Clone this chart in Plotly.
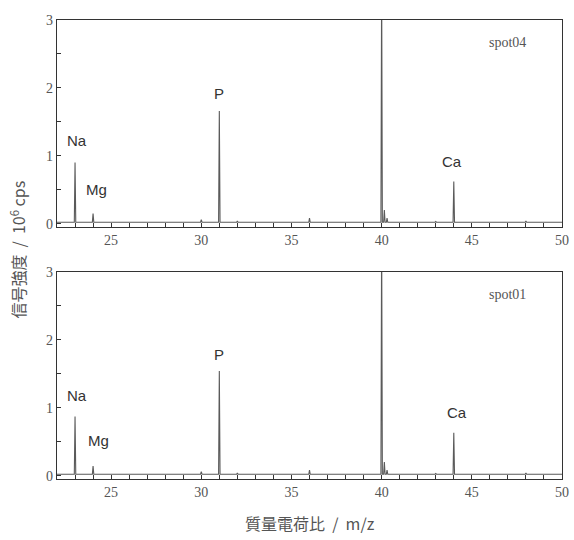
import plotly.graph_objects as go
from plotly.subplots import make_subplots

# Peak list (m/z) and intensities (10^6 cps)
peak_mz = [23.0, 24.0, 30.0, 31.0, 32.0, 36.0, 40.0, 40.15, 40.3, 43.0, 44.0, 48.0]
spot04_int = [0.90, 0.15, 0.06, 1.66, 0.04, 0.08, 3.6, 0.20, 0.08, 0.03, 0.62, 0.04]
spot01_int = [0.87, 0.14, 0.06, 1.54, 0.04, 0.08, 3.6, 0.20, 0.08, 0.03, 0.63, 0.04]
baseline = 0.02

element_names = ["Na", "Mg", "P", "Ca"]
element_x04 = [23.1, 24.2, 31.0, 43.9]
element_y04 = [1.22, 0.50, 1.91, 0.91]
element_x01 = [23.1, 24.3, 31.0, 44.2]
element_y01 = [1.18, 0.51, 1.78, 0.93]

spot_names = ["spot04", "spot01"]
x_range = [22, 50]
y_range = [-0.05, 3.0]


def spectrum(mz, inten):
    xs, ys = [x_range[0]], [baseline]
    for m, h in zip(mz, inten):
        xs += [m - 0.04, m, m + 0.04]
        ys += [baseline, h, baseline]
    xs.append(x_range[1])
    ys.append(baseline)
    return xs, ys


fig = make_subplots(rows=2, cols=1, vertical_spacing=0.098)
line_col = "#5a5a5a"
for row, inten in [(1, spot04_int), (2, spot01_int)]:
    xs, ys = spectrum(peak_mz, inten)
    fig.add_trace(go.Scatter(x=xs, y=ys, mode="lines",
                             line=dict(color=line_col, width=1.1),
                             showlegend=False, hoverinfo="skip"),
                  row=row, col=1)

ann_font = dict(family="Liberation Sans, Arial", size=15, color="#333333")
for row, (ex, ey) in [(1, (element_x04, element_y04)), (2, (element_x01, element_y01))]:
    for name, xv, yv in zip(element_names, ex, ey):
        fig.add_annotation(x=xv, y=yv, text=name, showarrow=False,
                           font=ann_font, row=row, col=1)
for row, name in [(1, spot_names[0]), (2, spot_names[1])]:
    fig.add_annotation(x=47.0, y=2.67, text=name, showarrow=False,
                       font=dict(family="Liberation Serif", size=14, color="#555555"),
                       row=row, col=1)

axis_common = dict(showline=True, linecolor="#333333", linewidth=1.2, mirror=True,
                   showgrid=False, zeroline=False, ticks="inside", ticklen=4,
                   tickcolor="#333333", automargin=False,
                   tickfont=dict(family="Liberation Serif", size=14, color="#555555"))
for row in (1, 2):
    fig.update_xaxes(range=x_range, dtick=5, tick0=0,
                     minor=dict(dtick=1, ticks="inside", ticklen=4, tickcolor="#333333"),
                     **axis_common, row=row, col=1)
    fig.update_yaxes(range=y_range, dtick=1, tick0=0,
                     minor=dict(dtick=0.5, ticks="inside", ticklen=4, tickcolor="#333333"),
                     **axis_common, row=row, col=1)

fig.add_annotation(xref="paper", yref="paper", x=0.5, y=-0.096, yanchor="middle",
                   text="質量電荷比&nbsp;&nbsp;/&nbsp;&nbsp;m/z", showarrow=False,
                   font=dict(family="Noto Sans CJK JP", size=16, color="#555555"))
fig.add_annotation(xref="paper", yref="paper", x=-0.077, y=0.5, textangle=-90,
                   xanchor="center", yanchor="middle",
                   text="信号強度&nbsp;&nbsp;/&nbsp;&nbsp;10<sup>6</sup>&nbsp;cps", showarrow=False,
                   font=dict(family="Noto Sans CJK JP", size=16, color="#555555"))

fig.update_layout(width=574, height=540, margin=dict(l=57, r=12, t=20, b=61),
                  plot_bgcolor="white", paper_bgcolor="white")
fig.write_html("out.html", config={"displayModeBar": False},
               post_script="document.body.style.margin='0px';document.body.style.overflow='hidden';")
